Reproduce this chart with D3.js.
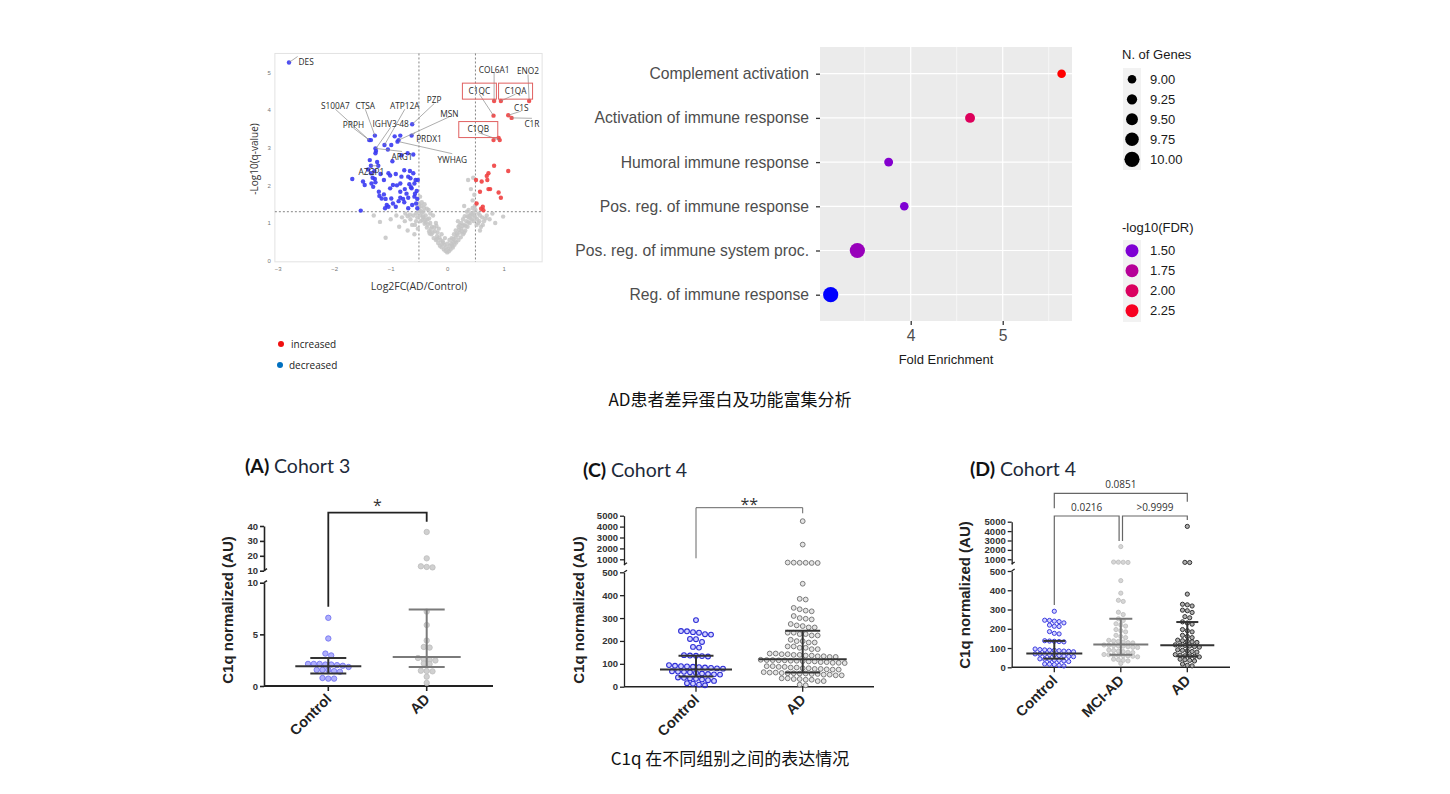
<!DOCTYPE html>
<html>
<head>
<meta charset="utf-8">
<title>C1q</title>
<style>
  body {margin: 0; background: #fff;}
  svg {display: block;}
  .vt text {font: 6px "Liberation Sans", sans-serif; fill: #777;}
  .lab {font: 8.3px "Open Sans", sans-serif; fill: #2a2a2a;}
  .cat {font: 15.7px "Liberation Sans", Arial, sans-serif; fill: #4d4d4d;}
  .leg {font: 13px "Liberation Sans", Arial, sans-serif; fill: #1a1a1a;}
  .ptick text {font: bold 9.5px "Liberation Sans", sans-serif; fill: #333;}
  .cap {font: 17px "Noto Sans CJK SC", sans-serif; fill: #111;}
</style>
</head>
<body>
<svg width="1450" height="794"></svg>
<script src="https://cdn.jsdelivr.net/npm/d3@7"></script>
<script>
// ---------- volcano data: [log2FC, -log10(q)] ----------
var upProteins = [
  [0.83,4.24],[0.95,4.24],[1.45,4.24],[0.82,3.85],[1.08,3.86],[1.14,3.79],[0.91,3.26],[0.82,3.20],[0.93,3.20],
  [0.83,2.52],[1.08,2.38],[0.73,2.32],[0.70,2.25],[0.71,2.14],[0.51,2.14],[0.61,2.10],[0.73,1.90],[0.76,1.90],
  [0.58,1.83],[0.91,1.81],[0.95,1.67],[0.52,1.52],[0.63,1.43],[0.64,1.34],[0.60,1.38]
];
var downProteins = [
  [-2.80,5.26],[-1.38,3.20],[-1.35,3.20],[-1.28,3.32],[-1.11,3.07],[-0.99,3.07],[-0.86,3.20],[-0.88,3.16],[-0.83,3.32],
  [-0.63,3.32],[-0.62,3.62],[-1.27,2.98],[-1.26,2.91],[-1.27,2.85],[-1.37,2.67],[-0.97,2.64],[-0.60,2.82],[-0.70,2.85],
  [-1.22,2.52],[-1.35,2.52],[-1.35,2.32],[-1.29,2.38],[-1.68,2.17],[-1.49,2.10],[-1.46,2.01],[-1.28,2.17],[-1.27,2.08],
  [-1.12,2.14],[-1.04,2.32],[-1.01,2.26],[-0.83,2.05],[-0.81,2.23],[-0.69,2.23],[-0.65,2.19],[-0.60,2.32],[-0.56,2.14],
  [-0.52,2.14],[-1.31,1.96],[-1.21,1.83],[-1.12,1.76],[-1.01,1.92],[-0.83,1.83],[-0.75,1.90],[-0.63,1.92],[-0.54,1.85],
  [-1.16,1.65],[-1.09,1.64],[-0.99,1.65],[-0.83,1.67],[-0.78,1.64],[-0.69,1.67],[-0.58,1.70],[-0.53,1.64],[-1.07,1.48],
  [-1.10,1.39],[-1.04,1.43],[-0.91,1.43],[-0.76,1.55],[-0.69,1.39],[-0.62,1.48],[-0.53,1.39],[-0.55,1.52],[-1.53,1.33],
  [-1.34,2.05],[-1.32,2.20],[-0.96,2.01],[-0.89,2.00],[-0.67,2.03],[-0.64,1.95],[-1.20,1.72],[-0.86,1.58],[-0.96,1.52],
  [-0.72,1.78],[-0.58,2.05],[-0.57,1.78],[-1.18,2.30],[-0.91,2.30],[-0.76,2.40],[-0.66,2.38],[-1.40,2.42],[-1.24,2.62],
  [-0.81,2.80],[-1.05,2.95],[-0.93,3.30]
];
var nsProteins = [
  [0.00,0.22],[0.03,0.25],[-0.03,0.26],[0.06,0.30],[-0.06,0.30],[0.10,0.35],[-0.10,0.36],[0.13,0.42],[-0.13,0.40],
  [0.16,0.48],[-0.16,0.47],[0.20,0.55],[-0.20,0.55],[0.24,0.62],[-0.24,0.60],[0.28,0.70],[-0.28,0.70],[0.32,0.80],
  [-0.32,0.78],[0.36,0.90],[-0.36,0.88],[0.40,1.00],[-0.40,0.98],[0.44,1.10],[-0.44,1.08],[0.48,1.20],[-0.48,1.20],
  [0.05,0.40],[-0.05,0.42],[0.10,0.50],[-0.12,0.55],[0.15,0.62],[-0.18,0.65],[0.22,0.75],[-0.22,0.78],[0.25,0.85],
  [-0.27,0.90],[0.30,0.95],[-0.30,1.00],[0.34,1.05],[-0.35,1.10],[0.38,1.15],[-0.38,1.20],[0.42,1.25],[-0.42,1.30],
  [0.20,0.90],[-0.20,1.00],[0.15,0.80],[-0.10,0.70],[0.08,0.60],[0.00,0.45],[-0.25,1.20],[0.28,1.10],[-0.33,1.35],
  [0.35,1.30],[0.45,1.40],[-0.46,1.45],[-0.50,1.50],[-0.45,1.28],[0.50,1.35],[0.55,1.25],[0.58,1.20],[0.62,1.15],
  [-0.55,1.25],[-0.60,1.20],[-0.65,1.10],[-0.70,1.18],[-0.75,1.05],[-0.80,1.15],[-0.90,1.20],[-1.00,1.10],[-1.19,1.03],
  [-1.09,0.61],[-1.30,1.20],[-0.85,0.90],[-0.62,0.95],[-0.70,0.80],[-0.58,0.70],[-0.52,0.85],[-0.55,1.05],[0.55,1.00],
  [0.60,0.90],[0.65,1.05],[0.70,1.20],[0.75,1.10],[0.80,1.25],[0.99,1.17],[0.85,1.00],[0.58,0.80],[0.52,0.95],
  [0.37,2.14],[0.46,2.20],[0.42,1.90],[-0.45,1.55],[-0.48,1.70],[0.45,1.60],[0.30,1.45],[-0.40,1.50],[0.48,1.75],
  [-0.36,1.38],[-0.30,1.25],[0.25,1.00],[-0.15,0.85],[0.12,0.70],[0.40,1.20],[0.38,1.35],[-0.42,1.15],[-0.47,1.05],
  [0.47,1.05],[0.50,1.15],[-0.51,1.32],[-0.26,0.75],[0.18,0.68],[-0.08,0.52],[0.31,1.18],[-0.38,1.02],[0.27,0.92],
  [0.02,0.32],[-0.02,0.36],[0.07,0.45],[-0.07,0.48],[0.11,0.58],[-0.14,0.62],[0.17,0.72],[-0.17,0.75],[0.21,0.82],
  [-0.23,0.88],[0.26,0.78],[-0.29,0.84],[0.33,0.92],[-0.34,0.96],[0.37,1.02],[-0.39,1.08],[0.41,1.12],[-0.43,1.18],
  [0.46,1.28],[-0.47,1.32],[0.49,1.45],[-0.49,1.40],[0.44,1.22],[-0.41,1.40],[0.36,1.18],[-0.32,1.12],[0.22,0.95],
  [-0.19,0.92],[0.09,0.40],[-0.09,0.45],[0.14,0.52],[-0.18,0.58],[0.30,0.75],[-0.31,0.72],[0.53,1.10],[-0.53,1.15],
  [0.57,1.05],[-0.57,0.95],[0.63,0.95],[-0.66,1.22],[0.68,1.12],[-0.74,1.25],[0.04,0.55],[-0.04,0.60],[0.19,1.05]
];
var volcanoLabels = [
  {name: "DES", fc: -2.80, q: 5.26, tx: -2.63, tq: 5.26, anchor: "start"},
  {name: "S100A7", fc: -1.38, q: 3.20, tx: -1.98, tq: 4.10, anchor: "middle"},
  {name: "CTSA", fc: -1.28, q: 3.32, tx: -1.45, tq: 4.10, anchor: "middle"},
  {name: "ATP12A", fc: -1.11, q: 3.07, tx: -0.75, tq: 4.10, anchor: "middle"},
  {name: "PZP", fc: -0.62, q: 3.62, tx: -0.23, tq: 4.25, anchor: "middle"},
  {name: "PRPH", fc: -1.38, q: 3.20, tx: -1.66, tq: 3.60, anchor: "middle"},
  {name: "IGHV3-48", fc: -1.26, q: 2.98, tx: -1.00, tq: 3.62, anchor: "middle"},
  {name: "MSN", fc: -0.86, q: 3.20, tx: 0.04, tq: 3.90, anchor: "middle"},
  {name: "PRDX1", fc: -0.63, q: 3.32, tx: -0.55, tq: 3.24, anchor: "start"},
  {name: "ARG1", fc: -1.27, q: 2.98, tx: -0.80, tq: 2.74, anchor: "middle"},
  {name: "YWHAG", fc: -0.86, q: 3.16, tx: 0.09, tq: 2.68, anchor: "middle"},
  {name: "AZGP1", fc: -1.22, q: 2.52, tx: -1.34, tq: 2.36, anchor: "middle"},
  {name: "COL6A1", fc: 0.83, q: 4.24, tx: 0.83, tq: 5.07, anchor: "middle"},
  {name: "ENO2", fc: 1.45, q: 4.24, tx: 1.43, tq: 5.02, anchor: "middle"},
  {name: "C1QC", fc: 0.82, q: 3.85, tx: 0.57, tq: 4.50, anchor: "middle"},
  {name: "C1QA", fc: 0.95, q: 4.24, tx: 1.21, tq: 4.50, anchor: "middle"},
  {name: "C1S", fc: 1.08, q: 3.86, tx: 1.31, tq: 4.05, anchor: "middle"},
  {name: "C1R", fc: 1.14, q: 3.79, tx: 1.50, tq: 3.62, anchor: "middle"},
  {name: "C1QB", fc: 0.93, q: 3.20, tx: 0.55, tq: 3.48, anchor: "middle"}
];
var boxedLabels = ["C1QC", "C1QA", "C1QB"];

// ---------- enrichment data ----------
var terms = ["Complement activation", "Activation of immune response", "Humoral immune response",
             "Pos. reg. of immune response", "Pos. reg. of immune system proc.", "Reg. of immune response"];
var foldEnrichment = [5.64, 4.645, 3.76, 3.93, 3.42, 3.13];
var nGenes = [9, 9.2, 9.05, 9, 10, 10];
var log10FDR = [2.32, 2.02, 1.52, 1.50, 1.60, 1.32];
var sizeLegend = [9, 9.25, 9.5, 9.75, 10];
var colorLegend = [1.5, 1.75, 2.0, 2.25];

// ---------- C1q data ----------
var cohort3Control = [6.6, 4.6, 3.2, 2.9, 2.2, 2.2, 2.1, 2.1, 2.2, 2.0, 1.9, 1.7, 1.6, 1.6, 1.6, 1.4, 1.3, 0.7, 0.8, 0.7];
var cohort3AD = [36, 18.3, 13.2, 12, 12.5, 7.2, 5.9, 4.4, 3.8, 3.7, 2.8, 2.6, 2.5, 2.4, 2.2, 2.1, 1.5, 1.45, 1.4, 0.9, 0.3];
var cohort4Control = [291, 248, 246, 240, 236, 225, 222, 212, 210, 190, 175, 170, 140, 137, 135, 133, 130, 100, 95, 92,
  90, 88, 85, 82, 80, 76, 74, 72, 70, 68, 65, 60, 56, 52, 50, 48, 45, 42, 38, 35, 30, 25, 20, 18, 15, 8, 3];
var cohort4MCI = [2350, 720, 700, 680, 650, 450, 385, 350, 340, 290, 270, 255, 240, 230, 220, 210, 200, 190, 180, 170,
  160, 150, 145, 140, 135, 130, 125, 122, 120, 118, 115, 112, 110, 105, 100, 98, 95, 90, 85, 80, 75, 72, 70, 68, 65,
  62, 60, 58, 55, 50, 45, 40, 35, 30, 20];
var cohort4ADonly = [4500, 680, 650, 380, 330, 325, 315, 300, 295, 280, 265, 255, 240, 230, 220, 200, 190, 180, 170,
  160, 150, 145, 140, 135, 130, 125, 120, 118, 115, 110, 105, 100, 95, 90, 85, 80, 75, 70, 65, 60, 58, 55, 50, 45,
  40, 35, 30, 20, 10, 5];
var cohort4AD = cohort4MCI.concat(cohort4ADonly);
// [q1, median, q3]
var summA = {Control: [1.2, 1.9, 2.7], AD: [1.85, 2.8, 7.4]};
var summC = {Control: [45, 75, 135], AD: [62, 120, 245]};
var summD = {Control: [45, 72, 137], "MCI-AD": [65, 118, 252], AD: [57, 115, 235]};

var svg = d3.select("svg");
var intFmt = d3.format("d");

// ================= volcano =================
var vx = d3.scaleLinear().domain([-3, 1]).range([277.7, 503.7]);
var vy = d3.scaleLinear().domain([0, 5]).range([260.7, 72.3]);
var vol = svg.append("g");

vol.append("rect")
    .attr("x", vx(-3.05)).attr("y", vy(5.5))
    .attr("width", vx(1.68) - vx(-3.05)).attr("height", vy(-0.03) - vy(5.5))
    .attr("fill", "none").attr("stroke", "#e2e2e2");

vol.append("g").attr("class", "vt")
    .attr("transform", "translate(0," + (vy(-0.03) + 2) + ")")
    .call(d3.axisBottom(vx).tickValues([-3, -2, -1, 0, 1]).tickFormat(intFmt).tickSize(0))
    .call(function(g) { g.select(".domain").remove(); });
vol.append("g").attr("class", "vt")
    .attr("transform", "translate(" + (vx(-3.05) - 1) + ",0)")
    .call(d3.axisLeft(vy).tickValues([0, 1, 2, 3, 4, 5]).tickFormat(intFmt).tickSize(0))
    .call(function(g) { g.select(".domain").remove(); });

[-0.5, 0.5].forEach(function(t) {
  vol.append("line").attr("x1", vx(t)).attr("x2", vx(t)).attr("y1", vy(5.5)).attr("y2", vy(-0.03))
      .attr("stroke", "#666").attr("stroke-width", 0.8).attr("stroke-dasharray", "2,2");
});
vol.append("line").attr("x1", vx(-3.05)).attr("x2", vx(1.68)).attr("y1", vy(1.3)).attr("y2", vy(1.3))
    .attr("stroke", "#666").attr("stroke-width", 0.8).attr("stroke-dasharray", "2,2");

vol.selectAll(".ns").data(nsProteins).enter().append("circle")
    .attr("cx", function(d) { return vx(d[0]); }).attr("cy", function(d) { return vy(d[1]); })
    .attr("r", 2.2).attr("fill", "#c4c4c4").attr("opacity", 0.85);
vol.selectAll(".dn").data(downProteins).enter().append("circle")
    .attr("cx", function(d) { return vx(d[0]); }).attr("cy", function(d) { return vy(d[1]); })
    .attr("r", 2.2).attr("fill", "#3a3af2").attr("opacity", 0.9);
vol.selectAll(".up").data(upProteins).enter().append("circle")
    .attr("cx", function(d) { return vx(d[0]); }).attr("cy", function(d) { return vy(d[1]); })
    .attr("r", 2.2).attr("fill", "#ef4040").attr("opacity", 0.9);

// label leaders + text
volcanoLabels.forEach(function(l) {
  vol.append("line")
      .attr("x1", vx(l.fc)).attr("y1", vy(l.q))
      .attr("x2", vx(l.tx) + (l.anchor == "start" ? -1 : 0)).attr("y2", vy(l.tq) + (l.tq > l.q ? 3 : -6))
      .attr("stroke", "#8a8a8a").attr("stroke-width", 0.7);
});
volcanoLabels.forEach(function(l) {
  vol.append("text").attr("class", "lab")
      .attr("x", vx(l.tx)).attr("y", vy(l.tq)).attr("dy", "0.35em")
      .attr("text-anchor", l.anchor).text(l.name);
  if (boxedLabels.indexOf(l.name) >= 0) {
    var w = l.name == "C1QB" ? 39 : 34;
    vol.append("rect").attr("x", vx(l.tx) - w / 2).attr("y", vy(l.tq) - 8)
        .attr("width", w).attr("height", 16)
        .attr("fill", "none").attr("stroke", "#e06060").attr("stroke-width", 1);
  }
});

vol.append("text").attr("transform", "translate(258," + vy(2.7) + ") rotate(-90)")
    .attr("text-anchor", "middle").attr("font-family", "Open Sans").attr("font-size", 10).attr("fill", "#333")
    .text("-Log10(q-value)");
vol.append("text").attr("x", vx(-0.5)).attr("y", 290)
    .attr("text-anchor", "middle").attr("font-family", "Open Sans").attr("font-size", 10.5).attr("fill", "#333")
    .text("Log2FC(AD/Control)");

var volLegend = [{t: "increased", c: "#f01010", x: 291}, {t: "decreased", c: "#0070c0", x: 289}];
volLegend.forEach(function(d, i) {
  vol.append("circle").attr("cx", 281 + (i ? -1 : 0)).attr("cy", 344 + i * 21).attr("r", 3).attr("fill", d.c);
  vol.append("text").attr("x", d.x).attr("y", 344 + i * 21).attr("dy", "0.35em")
      .attr("font-family", "Open Sans").attr("font-size", 10).attr("fill", "#222").text(d.t);
});

// ================= enrichment dot plot =================
var ex = d3.scaleLinear().domain([3.014, 5.753]).range([820, 1072]);
var ey = d3.scalePoint().domain(terms).range([73.7, 294.7]);
var er = d3.scaleLinear().domain([9, 10]).range([4.3, 7.6]);
var ec = d3.scaleLinear().domain([1.32, 2.32]).range(["#0000ff", "#ff0000"]).interpolate(d3.interpolateLab);
var en = svg.append("g");

en.append("rect").attr("x", 820).attr("y", 47).attr("width", 252).attr("height", 274).attr("fill", "#ebebeb");
[3.5, 4.5, 5.5].forEach(function(t) {
  en.append("line").attr("x1", ex(t)).attr("x2", ex(t)).attr("y1", 47).attr("y2", 321)
      .attr("stroke", "#fff").attr("stroke-width", 0.6);
});
[4, 5].forEach(function(t) {
  en.append("line").attr("x1", ex(t)).attr("x2", ex(t)).attr("y1", 47).attr("y2", 321)
      .attr("stroke", "#fff").attr("stroke-width", 1.2);
});
terms.forEach(function(t) {
  en.append("line").attr("x1", 820).attr("x2", 1072).attr("y1", ey(t)).attr("y2", ey(t))
      .attr("stroke", "#fff").attr("stroke-width", 1.2);
});

var yAx = en.append("g").attr("transform", "translate(820,0)")
    .call(d3.axisLeft(ey).tickSize(4).tickPadding(7));
yAx.select(".domain").remove();
yAx.selectAll("line").attr("stroke", "#333").attr("stroke-width", 1.3);
yAx.selectAll("text").attr("class", "cat").attr("font-size", null).attr("font-family", null);

var xAx = en.append("g").attr("transform", "translate(0,321)")
    .call(d3.axisBottom(ex).tickValues([4, 5]).tickFormat(intFmt).tickSize(4).tickPadding(5));
xAx.select(".domain").remove();
xAx.selectAll("line").attr("stroke", "#333").attr("stroke-width", 1.3);
xAx.selectAll("text").attr("class", "cat").attr("font-size", null).attr("font-family", null);

en.append("text").attr("x", 946).attr("y", 364).attr("text-anchor", "middle")
    .attr("font-family", "Liberation Sans").attr("font-size", 13).attr("fill", "#1a1a1a").text("Fold Enrichment");

en.selectAll(".dot").data(terms).enter().append("circle")
    .attr("cx", function(d, i) { return ex(foldEnrichment[i]); })
    .attr("cy", function(d) { return ey(d); })
    .attr("r", function(d, i) { return er(nGenes[i]); })
    .attr("fill", function(d, i) { return ec(log10FDR[i]); });

// legends
en.append("text").attr("class", "leg").attr("x", 1122).attr("y", 59).text("N. of Genes");
en.append("rect").attr("x", 1123).attr("y", 68).attr("width", 18).attr("height", 102).attr("fill", "#f2f2f2");
sizeLegend.forEach(function(v, i) {
  en.append("circle").attr("cx", 1132).attr("cy", 79.3 + i * 20).attr("r", er(v)).attr("fill", "#000");
  en.append("text").attr("class", "leg").attr("x", 1150).attr("y", 79.3 + i * 20).attr("dy", "0.36em")
      .text(v.toFixed(2));
});
en.append("text").attr("class", "leg").attr("x", 1122).attr("y", 232).text("-log10(FDR)");
en.append("rect").attr("x", 1123).attr("y", 240).attr("width", 18).attr("height", 82).attr("fill", "#f2f2f2");
colorLegend.forEach(function(v, i) {
  en.append("circle").attr("cx", 1132).attr("cy", 250.7 + i * 20).attr("r", 6.5).attr("fill", ec(v));
  en.append("text").attr("class", "leg").attr("x", 1150).attr("y", 250.7 + i * 20).attr("dy", "0.36em")
      .text(v.toFixed(2));
});

// ================= captions =================
svg.append("text").attr("class", "cap").attr("x", 730).attr("y", 406).attr("text-anchor", "middle")
    .text("AD患者差异蛋白及功能富集分析");
svg.append("text").attr("class", "cap").attr("x", 730).attr("y", 765).attr("text-anchor", "middle")
    .text("C1q 在不同组别之间的表达情况");

// ================= C1q scatter panels =================
function brokenY(lower, upper) {
  return function(v) { return v <= lower.domain()[1] ? lower(v) : upper(v); };
}

// lay points out in horizontal rows, GraphPad style
function rowLayout(values, y, cx, d) {
  var pts = values.map(function(v) { return {v: v, y: y(v)}; }).sort(function(a, b) { return a.y - b.y; });
  var rows = [];
  pts.forEach(function(p) {
    var last = rows[rows.length - 1];
    if (last && p.y - last[0].y < d) last.push(p); else rows.push([p]);
  });
  rows.forEach(function(r) {
    var my = d3.mean(r, function(p) { return p.y; });
    r.forEach(function(p, i) { p.x = cx + (i - (r.length - 1) / 2) * d; p.y = p.y * 0.6 + my * 0.4; });
  });
  return pts;
}

function drawPanel(cfg) {
  var g = svg.append("g");
  var lower = d3.scaleLinear().domain(cfg.lowDom).range(cfg.lowRange);
  var upper = d3.scaleLinear().domain(cfg.upDom).range(cfg.upRange);
  var y = brokenY(lower, upper);
  var x = d3.scalePoint().domain(cfg.cats).range(cfg.catRange);

  // title
  var t = g.append("text").attr("x", cfg.title[0]).attr("y", cfg.title[1])
      .attr("font-family", "Lato, 'Open Sans', sans-serif").attr("font-size", 19.5).attr("fill", "#111");
  t.append("tspan").attr("font-weight", "bold").text(cfg.letter + " ");
  t.append("tspan").attr("fill", "#1e2a3a").text(cfg.cohort);

  // axes
  [[lower, cfg.lowTicks], [upper, cfg.upTicks]].forEach(function(p) {
    var a = g.append("g").attr("class", "ptick").attr("transform", "translate(" + cfg.axisX + ",0)")
        .call(d3.axisLeft(p[0]).tickValues(p[1]).tickFormat(intFmt).tickSize(4).tickSizeOuter(0).tickPadding(2));
    a.selectAll("path,line").attr("stroke", "#222").attr("stroke-width", cfg.axisW);
    a.selectAll("text").attr("font-size", cfg.tickFont);
  });
  // small break marks
  g.append("line").attr("x1", cfg.axisX).attr("x2", cfg.axisX + 3)
      .attr("y1", cfg.upRange[0]).attr("y2", cfg.upRange[0] - 2).attr("stroke", "#222").attr("stroke-width", cfg.axisW);
  g.append("line").attr("x1", cfg.axisX).attr("x2", cfg.axisX + 3)
      .attr("y1", cfg.lowRange[1]).attr("y2", cfg.lowRange[1] - 2).attr("stroke", "#222").attr("stroke-width", cfg.axisW);

  var base = cfg.lowRange[0];
  g.append("line").attr("x1", cfg.axisX).attr("x2", cfg.axisEnd).attr("y1", base).attr("y2", base)
      .attr("stroke", "#222").attr("stroke-width", cfg.axisW + 0.3);
  cfg.cats.forEach(function(c) {
    g.append("line").attr("x1", x(c)).attr("x2", x(c)).attr("y1", base).attr("y2", base + 5)
        .attr("stroke", "#222").attr("stroke-width", cfg.axisW);
    g.append("text").attr("transform", "translate(" + (x(c) + 4) + "," + (base + 14) + ") rotate(-45)")
        .attr("text-anchor", "end").attr("font-family", "'Liberation Sans', Arial, sans-serif")
        .attr("font-weight", "bold").attr("font-size", 14.5).attr("fill", "#222").text(c);
  });

  g.append("text").attr("transform", "translate(" + cfg.ylabX + "," + cfg.ylabY + ") rotate(-90)")
      .attr("text-anchor", "middle").attr("font-family", "'Liberation Sans', Arial, sans-serif")
      .attr("font-weight", "bold").attr("font-size", 15).attr("fill", "#222").text("C1q normalized (AU)");

  // points
  cfg.cats.forEach(function(c, i) {
    var st = cfg.styles[i];
    var pts = rowLayout(cfg.data[i], y, x(c), st.d);
    g.selectAll(null).data(pts).enter().append("circle")
        .attr("cx", function(p) { return p.x; }).attr("cy", function(p) { return p.y; })
        .attr("r", st.r).attr("fill", st.fill).attr("stroke", st.stroke).attr("stroke-width", st.sw);
    var s = cfg.summ[c];
    var bar = g.append("g").attr("stroke", st.bar).attr("stroke-width", 2);
    bar.append("line").attr("x1", x(c) - st.mw).attr("x2", x(c) + st.mw).attr("y1", y(s[1])).attr("y2", y(s[1]));
    bar.append("line").attr("x1", x(c) - st.iw).attr("x2", x(c) + st.iw).attr("y1", y(s[0])).attr("y2", y(s[0]));
    bar.append("line").attr("x1", x(c) - st.iw).attr("x2", x(c) + st.iw).attr("y1", y(s[2])).attr("y2", y(s[2]));
    bar.append("line").attr("x1", x(c)).attr("x2", x(c)).attr("y1", y(s[0])).attr("y2", y(s[2]));
  });

  // significance brackets
  cfg.brackets.forEach(function(b) {
    var x1 = x(b.a) + (b.da || 0), x2 = x(b.b) + (b.db || 0);
    g.append("path").attr("d", "M" + x1 + "," + b.ya + "V" + b.top + "H" + x2 + "V" + b.yb)
        .attr("fill", "none").attr("stroke", cfg.brCol).attr("stroke-width", cfg.brW);
    g.append("text").attr("x", (x1 + x2) / 2 + (b.dx || 0)).attr("y", b.top - b.gap).attr("text-anchor", "middle")
        .attr("font-family", "'Open Sans', sans-serif").attr("font-size", b.size).attr("fill", "#333").text(b.label);
  });
}

drawPanel({
  letter: "(A)", cohort: "Cohort 3", title: [245, 473],
  cats: ["Control", "AD"], catRange: [328.3, 426.7], data: [cohort3Control, cohort3AD], summ: summA,
  lowDom: [0, 10], lowRange: [686, 582.7], upDom: [10, 40], upRange: [570.7, 526],
  lowTicks: [0, 5, 10], upTicks: [10, 20, 30, 40], axisX: 264, axisEnd: 493, axisW: 1.6, tickFont: 9.5,
  ylabX: 233, ylabY: 610,
  styles: [
    {r: 2.7, d: 5.8, fill: "rgba(110,110,250,0.55)", stroke: "#6b6bf0", sw: 0.8, bar: "#333", mw: 33, iw: 18},
    {r: 2.7, d: 5.8, fill: "#d0d0d0", stroke: "#bdbdbd", sw: 0.8, bar: "#7a7a7a", mw: 34, iw: 18}
  ],
  brCol: "#222", brW: 1.8,
  brackets: [{a: "Control", b: "AD", ya: 606.7, top: 512.7, yb: 521.7, label: "*", gap: 2, size: 16}]
});

drawPanel({
  letter: "(C)", cohort: "Cohort 4", title: [583, 477],
  cats: ["Control", "AD"], catRange: [696, 802.7], data: [cohort4Control, cohort4AD], summ: summC,
  lowDom: [0, 500], lowRange: [686.7, 572.3], upDom: [500, 5000], upRange: [564.75, 515.7],
  lowTicks: [0, 100, 200, 300, 400, 500], upTicks: [1000, 2000, 3000, 4000, 5000],
  axisX: 624, axisEnd: 874, axisW: 1.3, tickFont: 8.5,
  ylabX: 584, ylabY: 610,
  styles: [
    {r: 2.4, d: 6, fill: "rgba(130,130,255,0.35)", stroke: "#2b2bd6", sw: 1.1, bar: "#333", mw: 36, iw: 17.5},
    {r: 2.4, d: 6, fill: "#e4e4e4", stroke: "#7a7a7a", sw: 1.0, bar: "#333", mw: 44, iw: 17.5}
  ],
  brCol: "#666", brW: 1,
  brackets: [{a: "Control", b: "AD", ya: 558.3, top: 507.7, yb: 513.3, label: "**", gap: -2, size: 16}]
});

drawPanel({
  letter: "(D)", cohort: "Cohort 4", title: [970, 476],
  cats: ["Control", "MCI-AD", "AD"], catRange: [1054.3, 1187.3],
  data: [cohort4Control, cohort4MCI, cohort4ADonly], summ: summD,
  lowDom: [0, 500], lowRange: [667.3, 571], upDom: [500, 5000], upRange: [564, 521.7],
  lowTicks: [0, 100, 200, 300, 400, 500], upTicks: [1000, 2000, 3000, 4000, 5000],
  axisX: 1011.7, axisEnd: 1230, axisW: 1.3, tickFont: 8.5,
  ylabX: 970, ylabY: 595,
  styles: [
    {r: 2.1, d: 4.8, fill: "rgba(130,130,255,0.35)", stroke: "#3a3ae0", sw: 1.0, bar: "#333", mw: 28, iw: 11},
    {r: 2.1, d: 4.8, fill: "#d6d6d6", stroke: "#c0c0c0", sw: 0.9, bar: "#777", mw: 27.5, iw: 11.5},
    {r: 2.1, d: 4.8, fill: "#b0b0b0", stroke: "#333", sw: 1.0, bar: "#333", mw: 27, iw: 11}
  ],
  brCol: "#666", brW: 1.2,
  brackets: [
    {a: "Control", b: "AD", ya: 508.3, top: 493.3, yb: 501.7, label: "0.0851", gap: 5, size: 10},
    {a: "Control", b: "MCI-AD", db: -1.7, ya: 605, top: 516, yb: 541, label: "0.0216", gap: 5, size: 10},
    {a: "MCI-AD", b: "AD", da: 1.7, ya: 541, top: 516, yb: 520, label: ">0.9999", gap: 5, size: 10}
  ]
});
</script>
</body>
</html>
